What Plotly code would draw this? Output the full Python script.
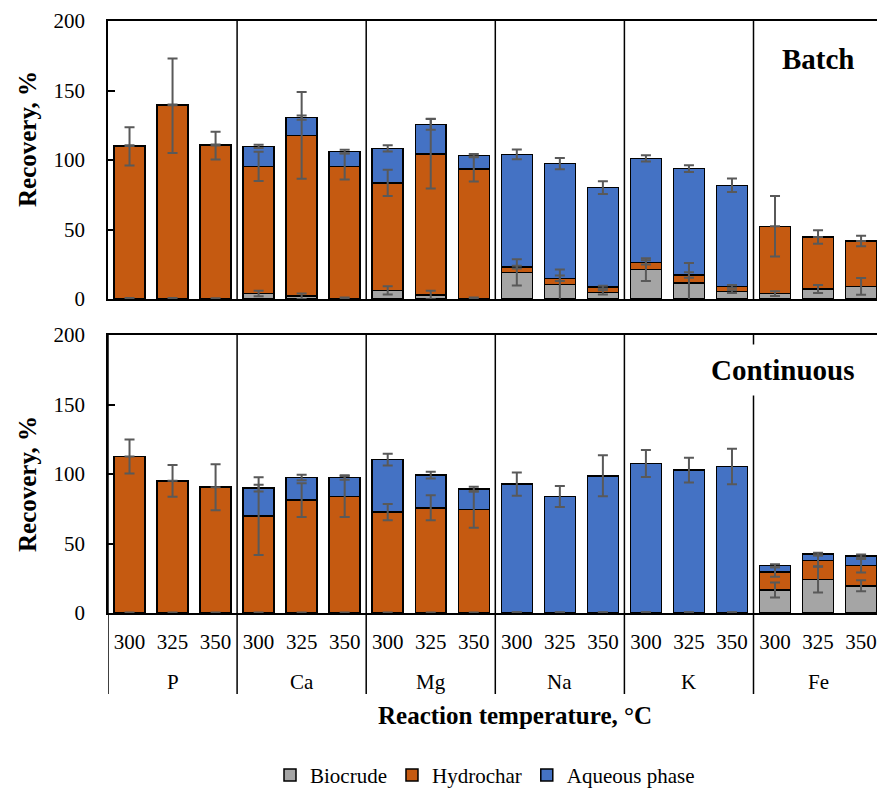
import numpy as np
import plotly.graph_objects as go

# ---------------- data ----------------
elements = ["P", "Ca", "Mg", "Na", "K", "Fe"]
temperatures = ["300", "325", "350"]
series_names = ["Biocrude", "Hydrochar", "Aqueous phase"]
series_colors = ["#A5A5A5", "#C55A11", "#4472C4"]

# Batch (values, %)
batch_biocrude = [0.5, 0.5, 0.3, 4.0, 2.0, 0.5, 6.2, 2.9, 0.5, 19.2, 10.3, 4.8, 21.1, 11.5, 5.3, 3.8, 7.2, 9.1]
batch_hydrochar = [109.3, 138.6, 110.0, 91.4, 115.7, 94.9, 77.3, 101.6, 93.0, 3.8, 4.6, 3.8, 5.3, 5.8, 3.8, 48.5, 37.4, 32.6]
batch_aqueous = [0.5, 0.5, 0.5, 14.4, 12.8, 10.6, 24.9, 21.2, 9.6, 81.1, 82.5, 71.5, 74.8, 76.5, 72.7, 0.0, 0.0, 0.0]
batch_biocrude_err = [0.3, 0.3, 0.2, 2.0, 2.0, 0.5, 2.9, 3.0, 0.5, 9.4, 11.0, 1.5, 8.2, 14.4, 1.0, 1.7, 2.9, 6.0]
batch_hydrochar_err = [13.8, 34.0, 10.0, 10.5, 31.2, 9.4, 9.4, 25.0, 9.0, 1.0, 2.0, 1.0, 1.5, 2.0, 1.0, 21.8, 4.8, 3.8]
batch_aqueous_err = [0.3, 0.3, 0.3, 1.2, 1.5, 1.4, 2.3, 4.0, 1.2, 3.5, 4.0, 4.6, 2.2, 2.4, 4.9, 0.0, 0.0, 0.0]

# Continuous (values, %)
cont_biocrude = [0.2, 0.2, 0.2, 0.2, 0.2, 0.2, 0.2, 0.2, 0.2, 0.3, 0.3, 0.3, 0.3, 0.3, 0.3, 16.5, 24.0, 19.6]
cont_hydrochar = [112.4, 94.9, 90.3, 69.5, 81.0, 83.6, 72.4, 75.5, 74.3, 0.2, 0.2, 0.2, 0.2, 0.2, 0.2, 13.0, 13.6, 14.4]
cont_aqueous = [0.0, 0.0, 0.0, 20.1, 16.3, 13.7, 37.8, 23.5, 14.6, 92.2, 83.3, 98.2, 107.0, 102.3, 104.9, 4.5, 4.8, 7.0]
cont_biocrude_err = [0.1, 0.1, 0.1, 0.1, 0.1, 0.1, 0.1, 0.1, 0.1, 0.1, 0.1, 0.1, 0.1, 0.1, 0.1, 5.4, 9.3, 4.0]
cont_hydrochar_err = [12.2, 11.4, 16.6, 28.0, 12.2, 14.7, 5.9, 9.0, 13.2, 0.1, 0.1, 0.1, 0.1, 0.1, 0.1, 3.4, 4.0, 4.8]
cont_aqueous_err = [0.0, 0.0, 0.0, 2.4, 2.0, 1.6, 4.2, 2.5, 1.8, 8.3, 7.5, 14.7, 9.7, 8.9, 12.8, 1.0, 1.0, 1.0]

y_ticks = [0, 50, 100, 150, 200]

# ---------------- figure ----------------
W, H = 877, 788
FONT = "Liberation Serif"
n_cat = len(elements) * len(temperatures)
xpos = list(range(n_cat))
tick_text = temperatures * len(elements)

def py(px):
    return 1 - px / H

fig = go.Figure()


def add_panel(values, errors, xa, ya, showlegend):
    tops = np.cumsum(np.array(values), axis=0)
    for name, vals, col in zip(series_names, values, series_colors):
        fig.add_trace(go.Bar(
            x=xpos, y=vals, name=name, width=0.72,
            marker=dict(color=col, line=dict(color="black", width=1.5)),
            xaxis=xa, yaxis=ya, showlegend=showlegend, legendgroup=name,
            hoverinfo="skip"))
    for top, err in zip(tops, errors):
        fig.add_trace(go.Scatter(
            x=xpos, y=top, mode="markers",
            marker=dict(color="rgba(0,0,0,0)", size=1),
            error_y=dict(type="data", array=err, color="#595959", thickness=2, width=5),
            xaxis=xa, yaxis=ya, showlegend=False, hoverinfo="skip"))


add_panel([batch_biocrude, batch_hydrochar, batch_aqueous],
          [batch_biocrude_err, batch_hydrochar_err, batch_aqueous_err], "x", "y", True)
add_panel([cont_biocrude, cont_hydrochar, cont_aqueous],
          [cont_biocrude_err, cont_hydrochar_err, cont_aqueous_err], "x2", "y2", False)

top_dom = [py(299), py(21)]
bot_dom = [py(613), py(335)]
xrange_ = [-0.5, 17.37]

common_x = dict(range=xrange_, showline=True, linecolor="black", linewidth=1.5, mirror=True,
                showgrid=False, zeroline=False, ticks="", tickvals=xpos, automargin=False)
common_y = dict(range=[0, 200], tickvals=y_ticks, ticks="inside", ticklen=7, tickwidth=1.5,
                tickcolor="black", showline=True, linecolor="black", linewidth=1.5,
                showgrid=False, zeroline=False, tickfont=dict(size=21, family=FONT, color="black"),
                ticklabelstandoff=17, automargin=False)

shapes = []
ng = len(elements)
nt = len(temperatures)
for g in range(1, ng):
    shapes.append(dict(type="line", xref="x", yref="y", x0=g * nt - 0.5, x1=g * nt - 0.5,
                       y0=0, y1=200, line=dict(color="black", width=1.5)))
for g in range(0, ng):
    shapes.append(dict(type="line", xref="x2", yref="paper", x0=g * nt - 0.5, x1=g * nt - 0.5,
                       y0=py(694), y1=bot_dom[1], line=dict(color="black", width=1.5)))

annotations = []
for g, el in enumerate(elements):
    annotations.append(dict(text=el, xref="x2", yref="paper", x=g * nt + (nt - 1) / 2, y=py(682),
                            showarrow=False, font=dict(size=21, family=FONT, color="black"),
                            yanchor="middle"))
annotations.append(dict(text="<b>Reaction temperature, °C</b>", xref="paper", yref="paper",
                        x=(515 - 108) / (W - 108), y=py(715), showarrow=False,
                        font=dict(size=25, family=FONT, color="black"), yanchor="middle"))
for yc in (139, 484):
    annotations.append(dict(text="<b>Recovery, %</b>", xref="paper", yref="paper",
                            x=(28 - 108) / (W - 108), y=py(yc), textangle=-90, showarrow=False,
                            font=dict(size=25, family=FONT, color="black"),
                            xanchor="center", yanchor="middle"))
annotations.append(dict(text="<b>Batch</b>", xref="paper", yref="paper",
                        x=(818 - 108) / (W - 108), y=py(59), showarrow=False,
                        font=dict(size=29, family=FONT, color="black"),
                        xanchor="center", yanchor="middle"))
annotations.append(dict(text="<b>Continuous</b>", xref="paper", yref="paper",
                        x=(782 - 108) / (W - 108), y=py(370), showarrow=False,
                        font=dict(size=29, family=FONT, color="black"),
                        xanchor="center", yanchor="middle", bgcolor="white", borderpad=9))

fig.update_layout(
    width=W, height=H,
    margin=dict(l=108, r=0, t=0, b=0, autoexpand=False),
    barmode="stack",
    paper_bgcolor="white", plot_bgcolor="white",
    font=dict(family=FONT, color="black", size=21),
    xaxis=dict(domain=[0, 1], anchor="y", showticklabels=False, **common_x),
    yaxis=dict(domain=top_dom, anchor="x", **common_y),
    xaxis2=dict(domain=[0, 1], anchor="y2", showticklabels=True, ticktext=tick_text,
                tickfont=dict(size=21, family=FONT, color="black"), ticklabelstandoff=9,
                **common_x),
    yaxis2=dict(domain=bot_dom, anchor="x2", **common_y),
    shapes=shapes,
    annotations=annotations,
    legend=dict(orientation="h", x=(485 - 108) / (W - 108), xanchor="center",
                y=-0.01, yanchor="bottom", font=dict(size=21, family=FONT, color="black"),
                itemwidth=30, traceorder="normal", bgcolor="rgba(0,0,0,0)"),
)

fig.write_html("out.html")
